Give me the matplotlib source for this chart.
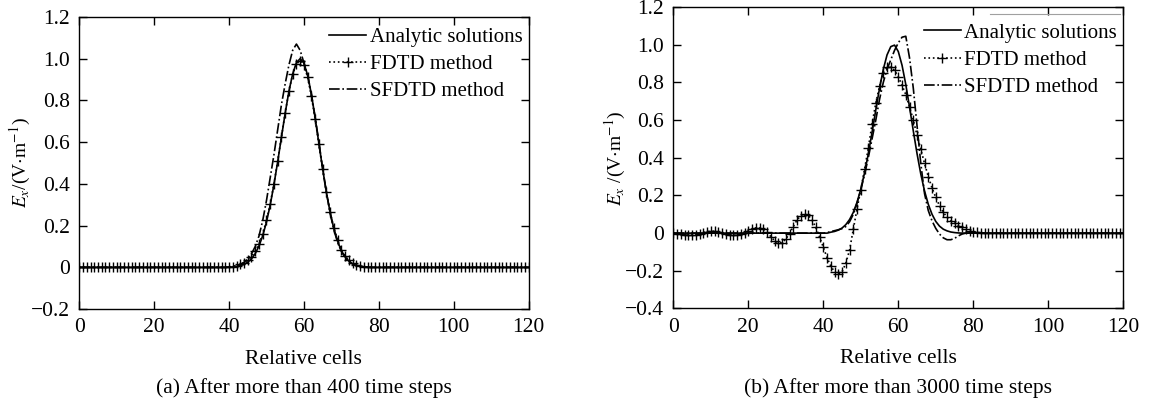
import numpy as np
import matplotlib
matplotlib.use("Agg")
import matplotlib.pyplot as plt
from matplotlib.ticker import FuncFormatter
from matplotlib.lines import Line2D

plt.rcParams["font.family"] = ["Liberation Serif", "DejaVu Serif"]
plt.rcParams["mathtext.fontset"] = "stix"
plt.rcParams["font.size"] = 15.5

cells = np.arange(0, 121)

# (a) after 400 steps, values from cell 40 on (zero elsewhere)
a_start = 40
a_analytic = [0.001, 0.002, 0.004, 0.008, 0.014, 0.025, 0.041, 0.066, 0.102, 0.152,
              0.217, 0.299, 0.397, 0.507, 0.624, 0.739, 0.844, 0.927, 0.981, 1.0,
              0.979, 0.92, 0.829, 0.717, 0.594, 0.472, 0.36, 0.264, 0.185, 0.125,
              0.08, 0.05, 0.03, 0.017, 0.009, 0.005, 0.002, 0.001]
a_fdtd = [0.002, 0.004, 0.008, 0.014, 0.022, 0.034, 0.052, 0.078, 0.112, 0.16,
          0.225, 0.305, 0.40, 0.51, 0.625, 0.74, 0.845, 0.925, 0.975, 0.99,
          0.97, 0.91, 0.82, 0.71, 0.59, 0.47, 0.36, 0.265, 0.19, 0.13,
          0.085, 0.055, 0.034, 0.02, 0.011, 0.006, 0.003, 0.001]
a_sfdtd = [0.002, 0.004, 0.008, 0.014, 0.024, 0.04, 0.065, 0.10, 0.15, 0.225,
           0.32, 0.43, 0.54, 0.66, 0.78, 0.88, 0.97, 1.04, 1.07, 1.04,
           0.98, 0.92, 0.83, 0.72, 0.6, 0.475, 0.36, 0.26, 0.18, 0.12,
           0.077, 0.047, 0.028, 0.016, 0.008, 0.004, 0.002, 0.001]

# (b) after 3000 steps
b_an_start = 42
b_analytic = [0.005, 0.009, 0.016, 0.027, 0.045, 0.072, 0.11, 0.164, 0.233, 0.32,
              0.42, 0.535, 0.654, 0.769, 0.869, 0.946, 0.99, 0.998, 0.964, 0.891,
              0.789, 0.669, 0.543, 0.422, 0.314, 0.224, 0.153, 0.1, 0.062, 0.037,
              0.021, 0.012, 0.006, 0.003, 0.001]
b_fd_start = 0
b_fdtd = [0, -0.002, -0.005, -0.008, -0.01, -0.01, -0.008, -0.003, 0.003, 0.008,
          0.01, 0.01, 0.007, 0.002, -0.004, -0.009, -0.011, -0.01, -0.006, 0.002,
          0.012, 0.022, 0.028, 0.028, 0.02, 0.004, -0.018, -0.04, -0.052, -0.05,
          -0.032, -0.002, 0.035, 0.07, 0.093, 0.1, 0.095, 0.07, 0.03, -0.02,
          -0.075, -0.13, -0.175, -0.205, -0.218, -0.205, -0.16, -0.09, 0.02, 0.13,
          0.23, 0.34, 0.45, 0.58, 0.69, 0.78, 0.85, 0.88, 0.88, 0.865,
          0.83, 0.785, 0.735, 0.67, 0.6, 0.52, 0.445, 0.37, 0.3, 0.24,
          0.19, 0.145, 0.11, 0.085, 0.067, 0.053, 0.04, 0.03, 0.02, 0.013,
          0.008, 0.004, 0.002, 0]
b_sf_start = 40
b_sfdtd = [0, 0.003, 0.008, 0.013, 0.018, 0.024, 0.035, 0.06, 0.1, 0.16,
           0.23, 0.31, 0.40, 0.50, 0.60, 0.71, 0.80, 0.87, 0.92, 0.97,
           1.01, 1.04, 1.045, 0.93, 0.77, 0.57, 0.37, 0.21, 0.12, 0.065,
           0.025, -0.005, -0.025, -0.035, -0.035, -0.028, -0.015, -0.005, 0]

labels = ["Analytic solutions", "FDTD method", "SFDTD method"]
x_ticks = [0, 20, 40, 60, 80, 100, 120]


def pad(start, vals):
    out = np.zeros(len(cells))
    out[start:start + len(vals)] = vals
    return out


def fmt(v, pos):
    if abs(v) < 1e-9:
        return "0"
    return f"{v:.1f}".replace("-", "\u2212")


def draw(ax, analytic, fdtd, sfdtd, ylim, ylabel, leg_top, ypad):
    ax.plot(cells, analytic, "-", color="black", lw=1.2, label=labels[0])
    ax.plot(cells, fdtd, ":", color="black", lw=1.2, marker="+", ms=7, mew=1.0,
            label=labels[1])
    ax.plot(cells, sfdtd, "-.", color="black", lw=1.2, label=labels[2])
    ax.set_xlim(0, 120)
    ax.set_ylim(*ylim)
    ax.set_xticks(x_ticks)
    ax.set_yticks(np.arange(ylim[0], ylim[1] + 0.01, 0.2))
    ax.yaxis.set_major_formatter(FuncFormatter(fmt))
    ax.tick_params(direction="in", top=True, right=True, length=6, width=1, pad=6.5)
    for s in ax.spines.values():
        s.set_linewidth(1.0)
    ax.set_xlabel("Relative cells", labelpad=9)
    ax.set_ylabel(ylabel, labelpad=ypad, fontsize=14)
    ax.legend(loc="upper right", bbox_to_anchor=(1.0, leg_top), frameon=False,
              handlelength=1.8, handletextpad=0.15, labelspacing=0.37,
              borderaxespad=0.1, borderpad=0.2, fontsize=15)


fig = plt.figure(figsize=(11.49, 4.03), dpi=100)
ax1 = fig.add_axes([0.069, 0.233, 0.391, 0.725])
ax2 = fig.add_axes([0.586, 0.2345, 0.3916, 0.748])

draw(ax1, pad(a_start, a_analytic), pad(a_start, a_fdtd), pad(a_start, a_sfdtd),
     (-0.2, 1.2), r"$E_x$/(V$\cdot$m$^{-1}$)", 0.986, -1)
draw(ax2, pad(b_an_start, b_analytic), pad(b_fd_start, b_fdtd), pad(b_sf_start, b_sfdtd),
     (-0.4, 1.2), r"$E_x$ /(V$\cdot$m$^{-1}$)", 0.968, -2)

fig.text(0.069 + 0.391 / 2, 0.037, "(a) After more than 400 time steps",
         ha="center", va="center", fontsize=15.5)
fig.text(0.586 + 0.3916 / 2, 0.037, "(b) After more than 3000 time steps",
         ha="center", va="center", fontsize=15.5)

# faint scan line above the right legend
fig.add_artist(Line2D([990 / 1149, 1120 / 1149], [1 - 14 / 403, 1 - 14 / 403],
                      color="#a0a0a0", lw=0.8))

fig.savefig("out.png", dpi=100)
